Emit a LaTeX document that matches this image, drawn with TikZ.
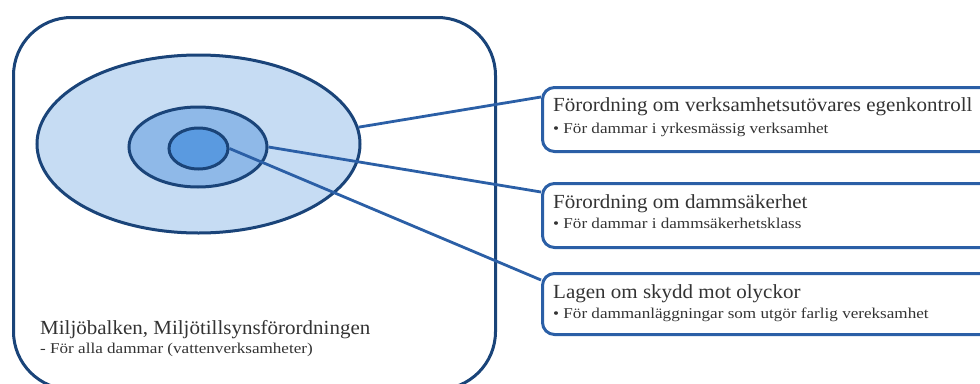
\documentclass[tikz,border=0pt]{standalone}
\usepackage{fontspec}
\setmainfont{Liberation Serif}
\newfontfamily\titlefont[FakeStretch=1.05]{Liberation Serif}
\newfontfamily\subfont[FakeStretch=1.14]{Liberation Serif}
\usetikzlibrary{shapes.geometric}
\definecolor{navy}{HTML}{1A4479}
\definecolor{linkblue}{HTML}{2B5FA6}
\definecolor{fillA}{HTML}{C6DCF3}
\definecolor{fillB}{HTML}{8FB9E8}
\definecolor{fillC}{HTML}{5A9AE0}
\definecolor{txt}{HTML}{333333}
\tikzset{
  ring/.style={ellipse, draw=navy, line width=3pt, inner sep=0pt},
  lawbox/.style={draw=linkblue, line width=3pt, rounded corners=12pt, anchor=north west, inner sep=0pt},
  link/.style={draw=linkblue, line width=2.8pt},
  title/.style={anchor=base west, inner sep=0pt, text=txt, font=\titlefont\fontsize{20}{22}\selectfont},
  sub/.style={anchor=base west, inner sep=0pt, text=txt, font=\subfont\fontsize{15}{16}\selectfont},
}
\begin{document}
\begin{tikzpicture}[x=1pt,y=1pt]
\useasboundingbox (0,0) rectangle (980,-383);
\clip (0,0) rectangle (980,-383);
% outer frame
\node[draw=navy, line width=3pt, rounded corners=58pt, minimum width=482pt, minimum height=372pt, anchor=north west, inner sep=0pt] (frame) at (12,-16) {};
% rings
\node[ring, fill=fillA, minimum width=323pt, minimum height=178pt] (big) at (198.5,-144) {};
\node[ring, fill=fillB, minimum width=138pt, minimum height=80pt] (mid) at (198,-147) {};
\node[ring, fill=fillC, minimum width=59pt, minimum height=41pt] (core) at (198.5,-148.5) {};
% boxes
\node[lawbox, minimum width=460pt, minimum height=64pt] (box1) at (541,-86) {};
\node[lawbox, minimum width=460pt, minimum height=64pt] (box2) at (541,-182) {};
\node[lawbox, minimum width=460pt, minimum height=61pt] (box3) at (541,-272) {};
\coordinate (in1) at (541,-97);
\coordinate (in2) at (541,-192);
\coordinate (in3) at (541,-280);
% connectors
\draw[link] (big.6) -- (in1);
\draw[link] (mid.east) -- (in2);
\draw[link] (core.east) -- (in3);
% texts
\node[title] (t1) at (553,-111) {Förordning om verksamhetsutövares egenkontroll};
\node[sub] (s1) at (553,-133) {• För dammar i yrkesmässig verksamhet};
\node[title] (t2) at (553,-208) {Förordning om dammsäkerhet};
\node[sub] (s2) at (553,-228) {• För dammar i dammsäkerhetsklass};
\node[title] (t3) at (553,-298) {Lagen om skydd mot olyckor};
\node[sub] (s3) at (553,-318) {• För dammanläggningar som utgör farlig vereksamhet};
\node[title] (t4) at (40,-334) {Miljöbalken, Miljötillsynsförordningen};
\node[sub] (s4) at (40,-353) {- För alla dammar (vattenverksamheter)};
\end{tikzpicture}
\end{document}
